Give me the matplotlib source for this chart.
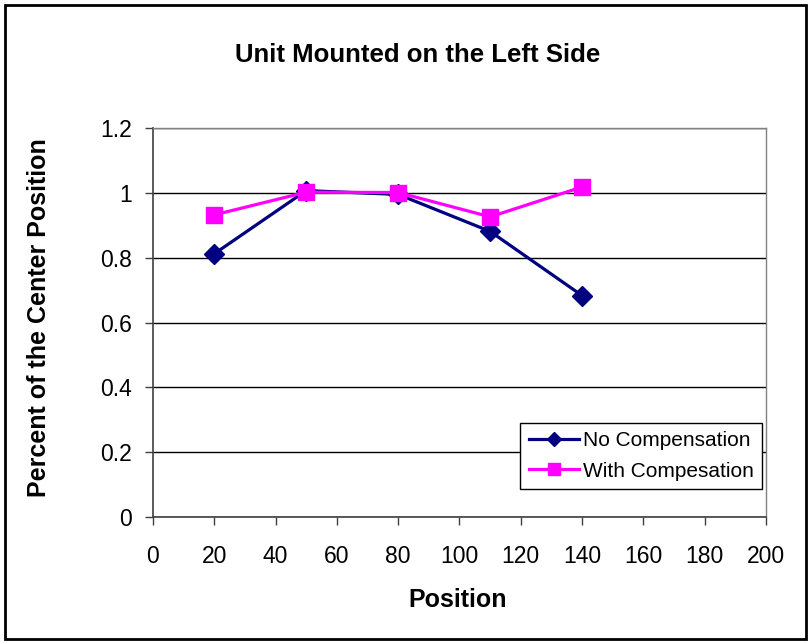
import matplotlib.pyplot as plt
from matplotlib.patches import Rectangle

plt.rcParams['font.family'] = ['Liberation Sans', 'DejaVu Sans']

positions = [20, 50, 80, 110, 140]
no_comp = [0.812, 1.007, 0.995, 0.881, 0.683]
with_comp = [0.932, 1.002, 1.001, 0.926, 1.018]

xticks = list(range(0, 201, 20))
yticks = [0, 0.2, 0.4, 0.6, 0.8, 1, 1.2]
ylabels = ['0', '0.2', '0.4', '0.6', '0.8', '1', '1.2']

fig = plt.figure(figsize=(8.12, 6.43), dpi=100)
ax = fig.add_axes([153/812, 1-517/643, (766-153)/812, (517-128)/643])

ax.plot(positions, no_comp, color='#000080', lw=2.3, marker='D', ms=10,
        label='No Compensation', zorder=3)
ax.plot(positions, with_comp, color='#FF00FF', lw=2.3, marker='s', ms=11.5,
        label='With Compesation', zorder=3)

ax.set_xlim(0, 200)
ax.set_ylim(0, 1.2)
ax.set_xticks(xticks)
ax.set_yticks(yticks)
ax.set_yticklabels(ylabels)
ax.tick_params(labelsize=16.5, direction='out', length=6, width=1, color='#404040')
ax.tick_params(axis='x', pad=14)
ax.tick_params(axis='y', pad=9)
ax.yaxis.grid(True, color='black', lw=1)
ax.set_axisbelow(True)

for s in ['left', 'bottom']:
    ax.spines[s].set_color('#404040')
    ax.spines[s].set_linewidth(1.2)
for s in ['right', 'top']:
    ax.spines[s].set_color('#808080')
    ax.spines[s].set_linewidth(1)

fig.text(458/812, 1-600/643, 'Position', ha='center', va='center',
         fontsize=18, fontweight='bold')
fig.text(39/812, 1-318/643, 'Percent of the Center Position', ha='center', va='center',
         rotation=90, fontsize=18, fontweight='bold')
fig.text(418/812, 1-55/643, 'Unit Mounted on the Left Side', ha='center', va='center',
         fontsize=18.5, fontweight='bold')

leg = ax.legend(loc='lower right', bbox_to_anchor=(0.9935, 0.072), fontsize=15,
                frameon=True, fancybox=False, edgecolor='black', framealpha=1,
                handlelength=2.4, borderpad=0.4, labelspacing=0.55, handletextpad=0.2,
                borderaxespad=0, markerscale=0.75)
leg.get_frame().set_linewidth(1)

fig.patches.append(Rectangle((5/812, 4/643), 801/812, 634/643, transform=fig.transFigure,
                             fill=False, edgecolor='black', lw=2))

fig.savefig('out.png', dpi=100)
